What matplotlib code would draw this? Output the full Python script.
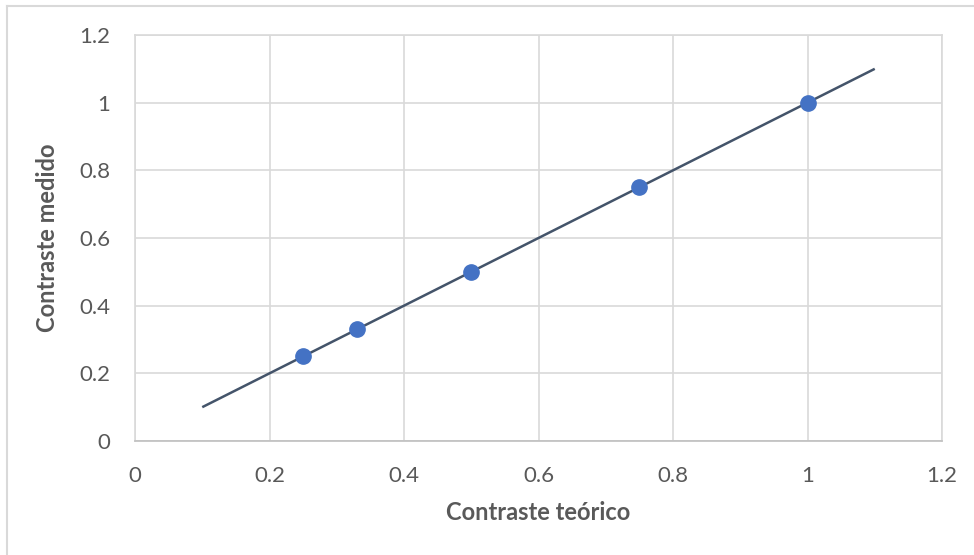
import matplotlib.pyplot as plt
from matplotlib.lines import Line2D

# measured vs theoretical contrast
contraste_teorico = [0.25, 0.33, 0.5, 0.75, 1.0]
contraste_medido = [0.25, 0.33, 0.5, 0.75, 1.0]

# linear trend line endpoints
trend_x = [0.1, 1.1]
trend_y = [0.1, 1.1]

ticks = [0, 0.2, 0.4, 0.6, 0.8, 1, 1.2]
tick_labels = ["0", "0.2", "0.4", "0.6", "0.8", "1", "1.2"]

plt.rcParams['font.family'] = ['Lato', 'DejaVu Sans']

fig = plt.figure(figsize=(9.74, 5.55), dpi=100)
ax = fig.add_axes([135 / 974, 1 - 441 / 555, (942 - 135) / 974, (441 - 35) / 555])

grid_c = '#D9D9D9'
text_c = '#595959'

ax.plot(trend_x, trend_y, color='#44546A', lw=1.8, solid_capstyle='butt', zorder=3)
ax.plot(contraste_teorico, contraste_medido, 'o', color='#4472C4', ms=11, zorder=4)

ax.set_xlim(0, 1.2)
ax.set_ylim(0, 1.2)
ax.set_xticks(ticks)
ax.set_xticklabels(tick_labels)
ax.set_yticks(ticks)
ax.set_yticklabels(tick_labels)
ax.grid(True, color=grid_c, lw=1.2)
ax.set_axisbelow(True)
for s in ax.spines.values():
    s.set_color(grid_c)
    s.set_linewidth(1.2)
ax.spines['bottom'].set_color('#BFBFBF')

ax.tick_params(length=0, labelsize=16, colors=text_c)
ax.tick_params(axis='x', pad=18)
ax.tick_params(axis='y', pad=18)

ax.set_xlabel('Contraste teórico', fontsize=17, fontweight='bold', color=text_c, labelpad=11)
ax.set_ylabel('Contraste medido', fontsize=17, fontweight='bold', color=text_c, labelpad=14)

# chart area border (only top and left edges fall inside the image)
fig.add_artist(Line2D([7 / 974, 1], [1 - 6 / 555, 1 - 6 / 555], color=grid_c, lw=1.5))
fig.add_artist(Line2D([7 / 974, 7 / 974], [0, 1 - 6 / 555], color=grid_c, lw=1.5))

fig.savefig('out.png', dpi=100)
